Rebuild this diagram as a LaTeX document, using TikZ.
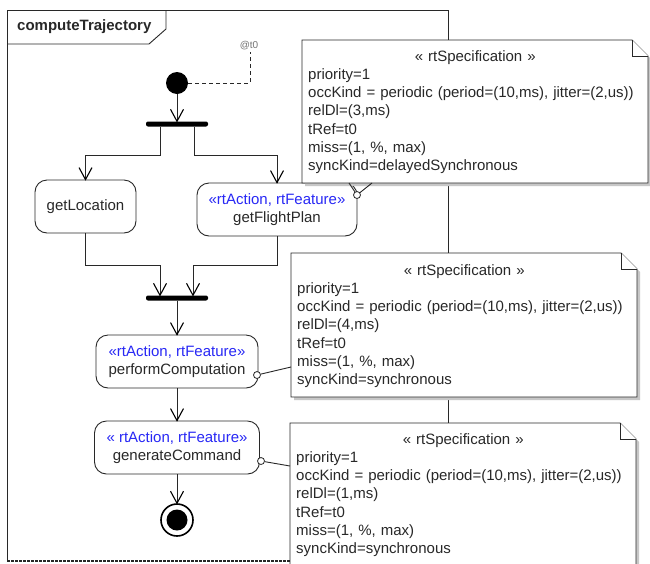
\documentclass[tikz,border=0pt]{standalone}
\usepackage{fontspec}
\setmainfont{Liberation Sans}
\usetikzlibrary{calc}
\definecolor{stereoblue}{RGB}{40,40,245}
\definecolor{ink}{RGB}{40,40,40}
\newcommand\stx[1]{\textcolor{stereoblue}{#1}}
\newcommand\notetitle{\makebox[334pt][c]{« rtSpecification »}}
\newcommand\vtip[1]{\draw[draw=black, line width=1.1pt, line join=miter] ($#1+(-6.5,-12)$) -- #1 -- ($#1+(6.5,-12)$);}
\newcommand\drawnote[1]{%
  \fill[black!22] ($(#1.north west)+(3,3)$) -- ($(#1.north east)+(-13,3)$) -- ($(#1.north east)+(3,19)$) -- ($(#1.south east)+(3,3)$) -- ($(#1.south west)+(3,3)$) -- cycle;
  \draw[notestyle] (#1.north west) -- ($(#1.north east)+(-16,0)$) -- ($(#1.north east)+(0,16)$) -- (#1.south east) -- (#1.south west) -- cycle;
  \draw[notestyle] ($(#1.north east)+(-16,0)$) -- ($(#1.north east)+(-16,16)$) -- ($(#1.north east)+(0,16)$);
}
\begin{document}
\begin{tikzpicture}[x=1pt,y=-1pt,
  frame/.style={draw=ink, line width=0.9pt},
  notestyle/.style={draw=ink, fill=white, line width=0.9pt},
  noteshape/.style={rectangle, anchor=north west, inner sep=0pt, outer sep=0pt},
  notetext/.style={anchor=north west, inner sep=0pt, align=left, text width=334pt, font=\fontsize{15}{18.3}\selectfont, text=ink},
  action/.style={rectangle, draw=ink, fill=white, rounded corners=12pt, minimum height=53pt, align=center, font=\fontsize{15}{18}\selectfont, text=ink, line width=0.9pt, inner sep=2pt},
  bar/.style={rectangle, fill=black, minimum width=62pt, minimum height=5pt, inner sep=0pt, rounded corners=2pt},
  initnode/.style={circle, fill=black, minimum size=22pt, inner sep=0pt},
  finalnode/.style={circle, draw=black, fill=white, line width=1.6pt, minimum size=32pt, inner sep=0pt},
  innerdot/.style={circle, fill=black, minimum size=21pt, inner sep=0pt},
  port/.style={circle, draw=ink, fill=white, minimum size=7pt, inner sep=0pt, line width=0.8pt},
  flow/.style={draw=ink, line width=1pt},
  conn/.style={draw=ink, line width=0.9pt}
]
\clip (0,0) rectangle (650,563);
\fill[white] (0,0) rectangle (650,563);

% frame
\coordinate (fTL) at (7,10);
\coordinate (fBR) at (448,561);
\draw[frame] (fTL |- fBR) -- (fTL) -- (fBR |- fTL) -- (fBR);
\draw[draw=ink, dash pattern=on 3pt off 1pt, line width=1.6pt] (fTL |- fBR) -- (fBR);
\draw[frame] (7,44) -- (149,44) -- (166,29) -- (166,10);
\node[font=\bfseries\fontsize{15}{18}\selectfont, anchor=west, inner sep=0pt, text=ink] (title) at (17,27) {computeTrajectory};

% initial node and time mark
\node[initnode] (init) at (177,83) {};
\node[font=\fontsize{10}{12}\selectfont, text=black!55, inner sep=1pt] (t0) at (249,46) {@t0};
\coordinate (t0bend) at (250,83);
\draw[draw=ink, line width=0.9pt, dash pattern=on 4pt off 3pt] (init.east) -- (t0bend) -- (t0bend |- t0.south);

% bars
\node[bar] (bar1) at (177,124) {};
\node[bar] (bar2) at (177,298) {};

% actions
\node[action, minimum width=101pt] (getLocation) at (85.5,206.5) {getLocation};
\node[action, minimum width=160pt] (getFlightPlan) at (277,209.5) {\stx{«rtAction, rtFeature»}\\getFlightPlan};
\node[action, minimum width=162pt] (perf) at (177,361.5) {\stx{«rtAction, rtFeature»}\\performComputation};
\node[action, minimum width=165pt] (gen) at (177,447.5) {\stx{« rtAction, rtFeature»}\\generateCommand};

% final node
\node[finalnode] (final) at (177,520) {};
\node[innerdot] (finaldot) at (final.center) {};

% flows
\draw[flow] (init) -- (bar1.north);
\vtip{(bar1.north)}
\coordinate (b1l) at (160,155);
\coordinate (b1r) at (194,155);
\draw[flow] (b1l |- bar1.south) -- (b1l) -| (getLocation.north);
\vtip{(getLocation.north)}
\draw[flow] (b1r |- bar1.south) -- (b1r) -| (getFlightPlan.north);
\vtip{(getFlightPlan.north)}
\coordinate (j1) at (160,265);
\coordinate (j2) at (193,265);
\coordinate (j1e) at (j1 |- bar2.north);
\coordinate (j2e) at (j2 |- bar2.north);
\draw[flow] (getLocation.south) |- (j1) -- (j1e);
\vtip{(j1e)}
\draw[flow] (getFlightPlan.south) |- (j2) -- (j2e);
\vtip{(j2e)}
\draw[flow] (bar2.south) -- (perf.north);
\vtip{(perf.north)}
\draw[flow] (perf) -- (gen);
\vtip{(gen.north)}
\draw[flow] (gen) -- (final);
\vtip{(final.north)}

% notes
\node[noteshape, minimum width=346pt, minimum height=143pt] (n1) at (302,40) {};
\node[noteshape, minimum width=346pt, minimum height=144pt] (n2) at (291,253) {};
\node[noteshape, minimum width=346pt, minimum height=150pt] (n3) at (290,423) {};
\drawnote{n1}
\drawnote{n2}
\drawnote{n3}

\node[notetext] (n1t) at ($(n1.north west)+(6,10)$) {\notetitle\\
priority=1\\
occKind = periodic (period=(10,ms), jitter=(2,us))\\
relDl=(3,ms)\\
tRef=t0\\
miss=(1, \%, max)\\
syncKind=delayedSynchronous};
\node[notetext] (n2t) at ($(n2.north west)+(6,11)$) {\notetitle\\
priority=1\\
occKind = periodic (period=(10,ms), jitter=(2,us))\\
relDl=(4,ms)\\
tRef=t0\\
miss=(1, \%, max)\\
syncKind=synchronous};
\node[notetext] (n3t) at ($(n3.north west)+(6,10)$) {\notetitle\\
priority=1\\
occKind = periodic (period=(10,ms), jitter=(2,us))\\
relDl=(1,ms)\\
tRef=t0\\
miss=(1, \%, max)\\
syncKind=synchronous};

% note attachments
\node[port] (p1) at (357,195) {};
\coordinate (p1a) at (349,183);
\coordinate (p1b) at (372,183);
\draw[conn] (p1) -- (p1a);
\draw[conn] (p1) -- (p1b);
\node[port] (p2) at (257,375) {};
\coordinate (p2a) at (291,367);
\draw[conn] (p2) -- (p2a);
\node[port] (p3) at (261,461) {};
\coordinate (p3a) at (290,466);
\draw[conn] (p3) -- (p3a);
\end{tikzpicture}
\end{document}
